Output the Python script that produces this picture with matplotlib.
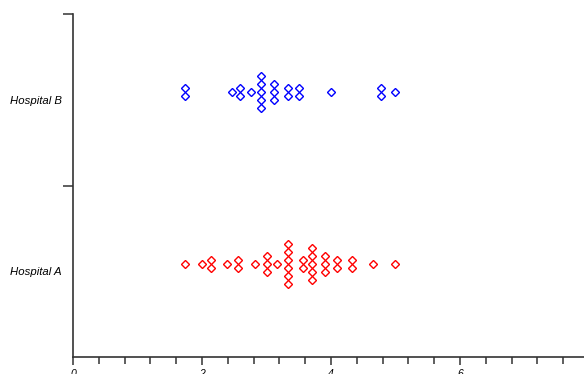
"""Dot plot of two hospitals, stacked like a beeswarm."""
from collections import Counter
import matplotlib.pyplot as plt
from matplotlib.ticker import MultipleLocator

# values, one entry per dot
hospital_a = [1.74, 2.0, 2.14, 2.14, 2.38, 2.56, 2.56, 2.82,
              3.0, 3.0, 3.0, 3.16,
              3.34, 3.34, 3.34, 3.34, 3.34, 3.34,
              3.57, 3.57,
              3.7, 3.7, 3.7, 3.7, 3.7,
              3.91, 3.91, 3.91,
              4.1, 4.1, 4.32, 4.32, 4.65, 4.99]
hospital_b = [1.74, 1.74, 2.46, 2.59, 2.59, 2.76,
              2.91, 2.91, 2.91, 2.91, 2.91,
              3.12, 3.12, 3.12,
              3.33, 3.33, 3.5, 3.5,
              4.0, 4.78, 4.78, 4.99]
groups = ['Hospital A', 'Hospital B']
colors = ['red', 'blue']

fig = plt.figure(figsize=(5.84, 3.74), dpi=100)
ax = fig.add_axes([0.125, 0.0455, 0.8836, 0.917])

step = 0.0467  # vertical gap between stacked dots
for row, (vals, col) in enumerate(zip([hospital_a, hospital_b], colors)):
    xs, ys = [], []
    for v, n in sorted(Counter(vals).items()):
        for k in range(n):
            xs.append(v)
            ys.append(row + 0.545 + (k - (n - 1) / 2) * step)
    ax.plot(xs, ys, 'D', ms=4.0, mfc='none', mec=col, mew=1.0,
            linestyle='none', clip_on=False)

ax.set_xlim(0, 8)
ax.set_ylim(0, 2)
for s in ['top', 'right']:
    ax.spines[s].set_visible(False)
for s in ['left', 'bottom']:
    ax.spines[s].set_color('#333333')
    ax.spines[s].set_linewidth(1.2)

ax.xaxis.set_major_locator(MultipleLocator(2))
ax.xaxis.set_minor_locator(MultipleLocator(0.4))
ax.tick_params(axis='x', which='major', length=6, width=1.1, color='#333333',
               labelsize=7.5, pad=3)
ax.tick_params(axis='x', which='minor', length=5, width=1.1, color='#333333')
for lab in ax.get_xticklabels():
    lab.set_fontstyle('italic')
    lab.set_family('Liberation Sans')

ax.set_yticks([1, 2])
ax.set_yticklabels([])
ax.tick_params(axis='y', which='major', length=7, width=1.1, color='#333333')
ax.set_yticks([0.5, 1.5], minor=True)
ax.set_yticklabels(groups, minor=True, fontsize=8.2, fontstyle='italic',
                   family='Liberation Sans')
ax.tick_params(axis='y', which='minor', length=0, pad=8)

fig.savefig('out.png', dpi=100)
